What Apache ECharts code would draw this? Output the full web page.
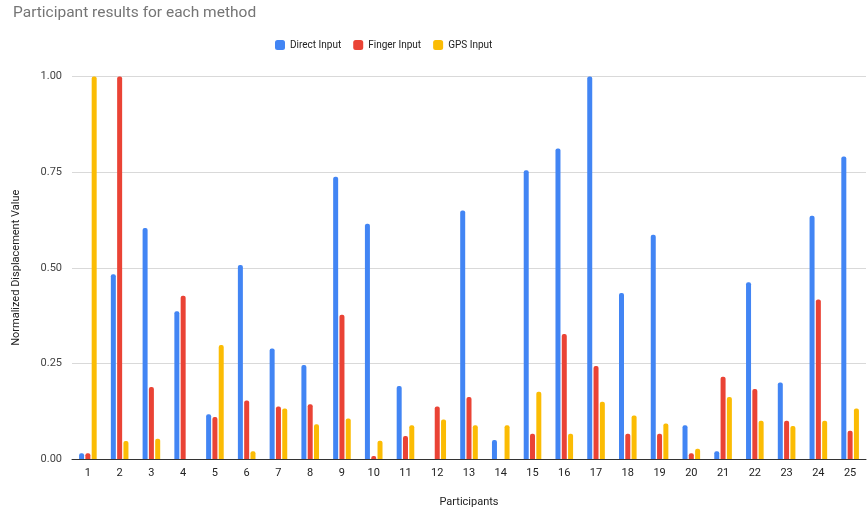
<!DOCTYPE html>
<html>
<head>
<meta charset="utf-8">
<script src="https://cdn.jsdelivr.net/npm/echarts@6/dist/echarts.min.js"></script>
<style>
  html, body { margin: 0; padding: 0; background: #fff; }
  #chart { width: 867px; height: 513px; }
</style>
</head>
<body>
<div id="chart"></div>
<script>
// Participants 1..25
const participants = ['1','2','3','4','5','6','7','8','9','10','11','12','13','14','15','16','17','18','19','20','21','22','23','24','25'];

// Normalized displacement per participant for each input method
const directInput = [0.015, 0.483, 0.604, 0.386, 0.117, 0.507, 0.289, 0.246, 0.738, 0.615, 0.191, 0, 0.650, 0.050, 0.755, 0.812, 1.000, 0.434, 0.586, 0.088, 0.020, 0.462, 0.200, 0.636, 0.791];
const fingerInput = [0.015, 1.000, 0.188, 0.427, 0.110, 0.153, 0.137, 0.143, 0.377, 0.008, 0.060, 0.137, 0.162, 0, 0.066, 0.327, 0.243, 0.066, 0.066, 0.015, 0.215, 0.183, 0.100, 0.417, 0.074];
const gpsInput    = [1.000, 0.047, 0.053, 0, 0.298, 0.020, 0.132, 0.091, 0.106, 0.048, 0.088, 0.103, 0.088, 0.088, 0.176, 0.066, 0.150, 0.114, 0.093, 0.027, 0.162, 0.100, 0.086, 0.100, 0.132];

const seriesNames = ['Direct Input', 'Finger Input', 'GPS Input'];
const seriesColors = ['#4285F4', '#EA4335', '#FBBC04'];
const seriesData = [directInput, fingerInput, gpsInput];

const chart = echarts.init(document.getElementById('chart'), null, { renderer: 'canvas' });

const FONT = 'Roboto, "Liberation Sans", Arial, sans-serif';

chart.setOption({
  animation: false,
  backgroundColor: '#ffffff',
  textStyle: { fontFamily: FONT },
  title: {
    text: 'Participant results for each method',
    left: 8,
    top: 0,
    textStyle: { fontFamily: FONT, fontSize: 15.5, fontWeight: 'normal', color: '#757575' }
  },
  legend: {
    data: seriesNames,
    left: 270,
    top: 35,
    icon: 'roundRect',
    itemWidth: 10,
    itemHeight: 10,
    itemGap: 12,
    textStyle: { fontFamily: FONT, fontSize: 10, color: '#222222' }
  },
  grid: { left: 72, right: 1, top: 76.5, bottom: 50.7, containLabel: false },
  xAxis: {
    type: 'category',
    data: participants,
    name: 'Participants',
    nameLocation: 'middle',
    nameGap: 38,
    nameTextStyle: { fontFamily: FONT, fontSize: 11, color: '#222222' },
    axisLine: { lineStyle: { color: '#333333', width: 1 } },
    axisTick: { show: false },
    axisLabel: { fontFamily: FONT, fontSize: 11, color: '#222222', margin: 9 }
  },
  yAxis: {
    type: 'value',
    min: 0,
    max: 1,
    interval: 0.25,
    name: 'Normalized Displacement Value',
    nameLocation: 'middle',
    nameGap: 50,
    nameTextStyle: { fontFamily: FONT, fontSize: 11, color: '#222222' },
    axisLine: { show: false },
    axisTick: { show: false },
    axisLabel: {
      fontFamily: FONT, fontSize: 11, color: '#444444', margin: 10,
      formatter: v => v.toFixed(2)
    },
    splitLine: { lineStyle: { color: '#d9d9d9', width: 1 } }
  },
  series: seriesNames.map((name, i) => ({
    name,
    type: 'bar',
    data: seriesData[i],
    barWidth: 5,
    barGap: '26%',
    itemStyle: { color: seriesColors[i], borderRadius: [2, 2, 0, 0] }
  }))
});
</script>
</body>
</html>
